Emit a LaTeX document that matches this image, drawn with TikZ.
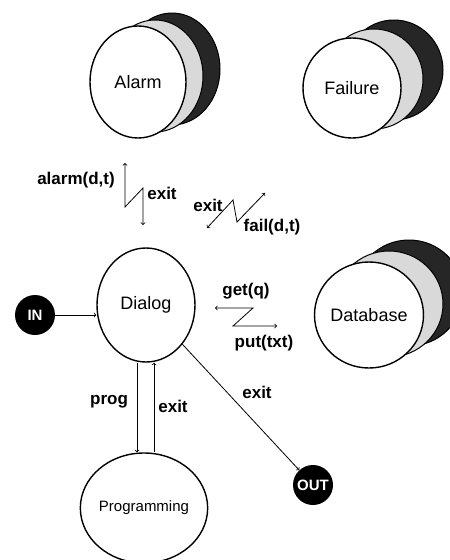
\documentclass[tikz,border=0pt]{standalone}
\usepackage{fontspec}
\setmainfont{Liberation Sans}
\usetikzlibrary{positioning,shapes.geometric}

\tikzset{
    store/.style={ellipse, draw, line width=1.4pt, fill=white, inner sep=0pt,
        font=\fontsize{18}{20}\selectfont},
    darkcopy/.style={ellipse, draw, line width=1pt, fill=black!85, inner sep=0pt},
    greycopy/.style={ellipse, draw, line width=1pt, fill=gray!30, inner sep=0pt},
    port/.style={circle, fill=black, minimum size=40pt, inner sep=0pt, text=white,
        font=\bfseries\fontsize{15}{16}\selectfont},
    lbl/.style={font=\bfseries\fontsize{17}{18}\selectfont, inner sep=1pt},
    flow/.style={->, line width=0.8pt},
    zig/.style={<->, line width=0.8pt},
}

\begin{document}
\begin{tikzpicture}[x=1pt, y=-1pt]
                        \useasboundingbox (0,0) rectangle (450,560);
                        \node[darkcopy, minimum width=96pt, minimum height=112pt]
                            (alarmdark) at (172,69) {};
                        \node[greycopy, minimum width=96pt, minimum height=112pt]
                            (alarmgrey) at (155,76) {};
                        \node[store, minimum width=96pt, minimum height=112pt]
                            (alarm) at (138,82) {Alarm};
                        \node[darkcopy, minimum width=98pt, minimum height=100pt]
                            (faildark) at (394,70) {};
                        \node[greycopy, minimum width=98pt, minimum height=100pt]
                            (failgrey) at (374,79) {};
                        \node[store, minimum width=98pt, minimum height=100pt]
                            (failure) at (352,88) {Failure};
                        \node[darkcopy, minimum width=108pt, minimum height=106pt]
                            (dbdark) at (409,293) {};
                        \node[greycopy, minimum width=108pt, minimum height=106pt]
                            (dbgrey) at (389,304) {};
                        \node[store, minimum width=108pt, minimum height=106pt]
                            (database) at (369,315) {Database};
                        \node[store, minimum width=98pt, minimum height=114pt]
                            (dialog) at (146,305) {Dialog};
                        \node[store, minimum width=102pt, minimum height=110pt,
                            font=\fontsize{15}{17}\selectfont]
                            (prog) at (144,508) {Programming};
                        \node[port] (in) at (35,315) {IN};
                        \node[port] (out) at (313,485) {OUT};
                        \draw[flow] (in.east) -- (in.east -| dialog.west);
                        \draw[flow] ([xshift=-9pt]dialog.south) -- ([xshift=-9pt]dialog.south |- prog.north);
                        \draw[flow] ([xshift=8pt]dialog.south |- prog.north) -- ([xshift=8pt]dialog.south);
                        \draw[flow] (dialog) -- (out);
                        \node[lbl] (progl) at (109,402) {prog};
                        \node[lbl] (progexit) at (173,406) {exit};
                        \node[lbl] (outexit) at (257,392) {exit};
                        \coordinate (az1) at (125,163);
                        \coordinate (az2) at (143,225);
                        \draw[zig] (az1) -- ++(0,44) -- ++(18,-19) -- (az2);
                        \node[lbl] (alarml) at (76,180) {alarm(d,t)};
                        \node[lbl] (alarmexit) at (162,193) {exit};
                        \coordinate (fz1) at (207,228);
                        \coordinate (fz2) at (265,193);
                        \draw[zig] (fz1) -- ++(26,-28) -- ++(4,22) -- (fz2);
                        \node[lbl] (failexit) at (208,205) {exit};
                        \node[lbl] (faill) at (272,227) {fail(d,t)};
                        \coordinate (gz1) at (215,308);
                        \coordinate (gz2) at (277,326);
                        \draw[zig] (gz1) -- ++(38,0) -- ++(-20,18) -- (gz2);
                        \node[lbl] (getl) at (246,291) {get(q)};
                        \node[lbl] (putl) at (264,343) {put(txt)};
                    \end{tikzpicture}
\end{document}
